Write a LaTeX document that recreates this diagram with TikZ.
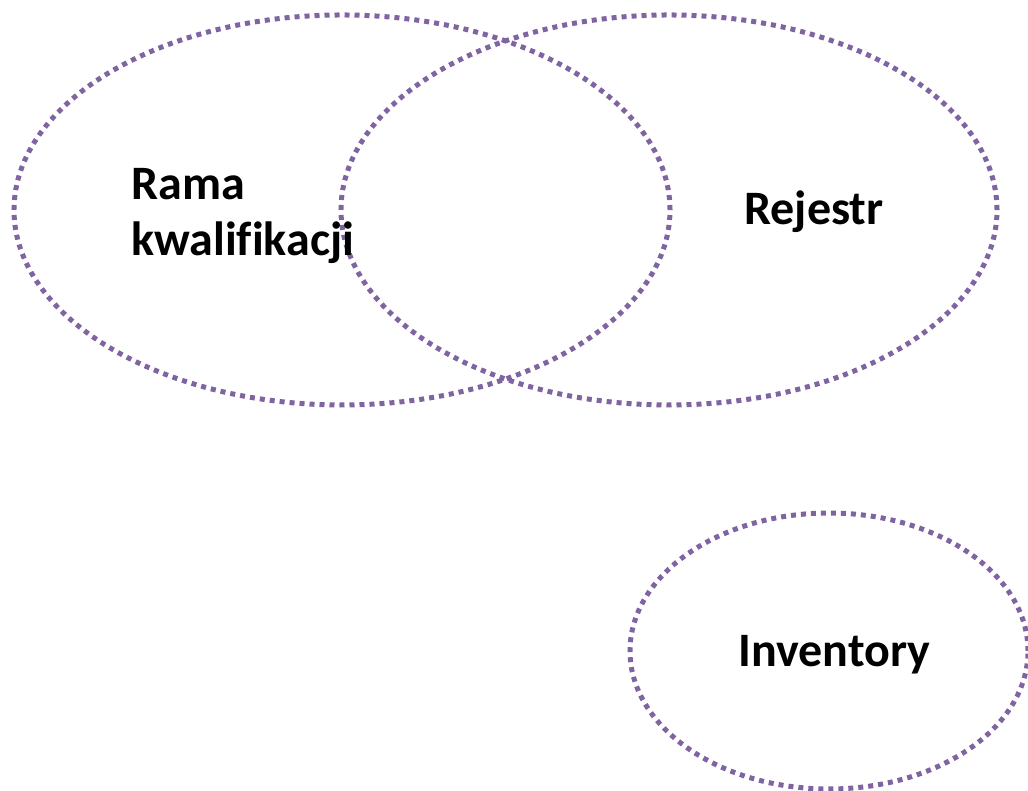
\documentclass[tikz,border=0pt]{standalone}
\usepackage{fontspec}
\setmainfont{Carlito}[Ligatures=CommonOff]
\definecolor{venn}{HTML}{8064A2}
\tikzset{
  ring/.style={draw=venn, line width=0.15cm, dash pattern=on 0.15cm off 0.15cm},
  label/.style={font=\bfseries\fontsize{41}{48}\selectfont, inner sep=0pt, align=left}
}
\begin{document}
\begin{tikzpicture}[x=0.03cm, y=0.03cm]
    \useasboundingbox (0, 0) rectangle (1028, 791);
    \draw[ring] (342, 581) ellipse [x radius=9.84cm, y radius=5.85cm]
                (669, 581) ellipse [x radius=9.84cm, y radius=5.85cm]
                (829, 140) ellipse [x radius=5.97cm, y radius=4.14cm];
    \node (rama) [label, anchor=west] at (131, 575) {Rama\\kwalifikacji};
    \node (rej) [label, anchor=west] at (744, 579) {Rejestr};
    \node (inv) [label, anchor=west] at (738, 136) {Inventory};
\end{tikzpicture}
\end{document}
